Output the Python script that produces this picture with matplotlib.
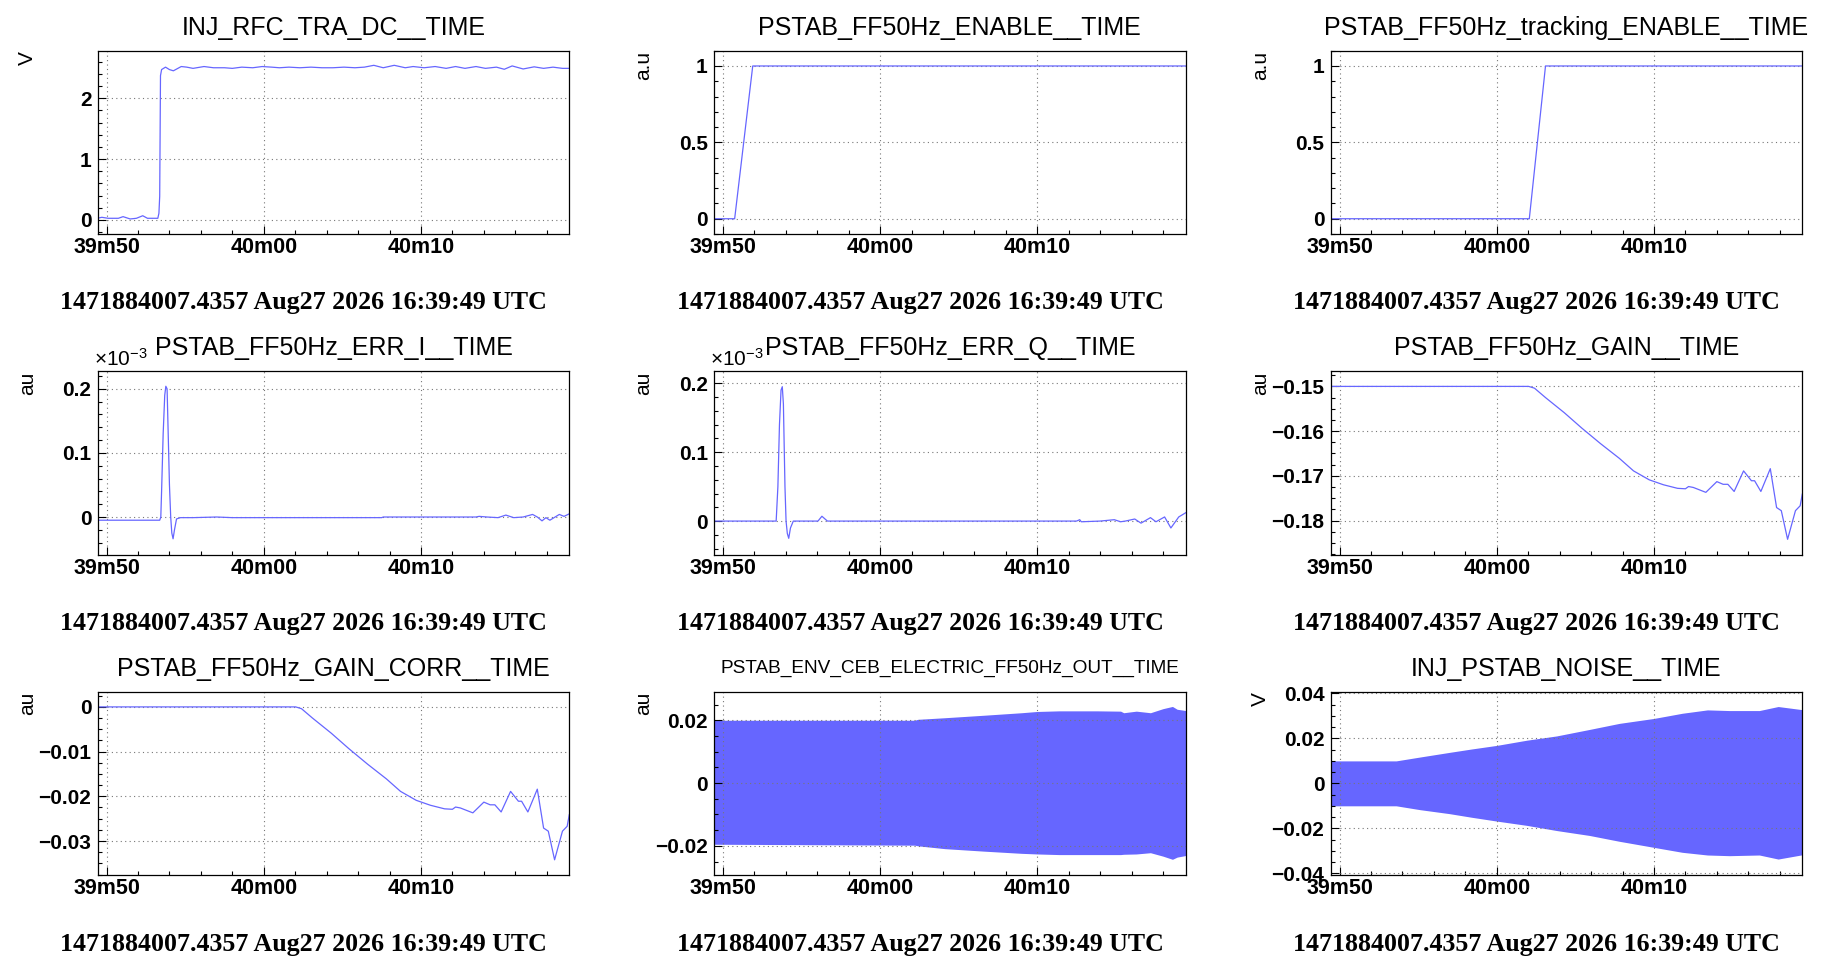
import matplotlib
matplotlib.use('Agg')
import matplotlib.pyplot as plt
from matplotlib.ticker import FixedLocator, MultipleLocator, FuncFormatter

plt.rcParams['font.family'] = ['Liberation Sans', 'DejaVu Sans']
plt.rcParams['mathtext.default'] = 'regular'

# time axis: seconds after 16:39:00 UTC
T0, T1 = 49.4357, 79.4357
xticks = [50, 60, 70]
xtick_labels = ['39m50', '40m00', '40m10']
footer = '1471884007.4357 Aug27 2026 16:39:49 UTC'

# INJ_RFC_TRA_DC__TIME (V)
rfc_t = [49.4357, 49.7, 50.1, 50.75, 51.05, 51.5, 51.9, 52.3, 52.6, 53.26, 53.33, 53.38,
         53.43, 53.5, 53.75, 54.0, 54.25, 54.75, 55.1, 55.5, 56.2, 56.8, 57.5, 58.0, 58.6,
         59.3, 59.9, 60.5, 61.0, 61.6, 62.3, 63.0, 63.7, 64.4, 65.1, 65.8, 66.4, 67.0, 67.6,
         68.3, 69.0, 69.5, 70.2, 70.9, 71.6, 72.2, 72.8, 73.5, 74.1, 74.8, 75.3, 75.8, 76.5,
         77.2, 77.8, 78.4, 79.0, 79.4357]
rfc_v = [0.03, 0.044, 0.028, 0.028, 0.055, 0.017, 0.028, 0.07, 0.028, 0.028, 0.11, 0.39,
         2.37, 2.47, 2.51, 2.47, 2.45, 2.52, 2.51, 2.49, 2.52, 2.50, 2.50, 2.49, 2.51,
         2.50, 2.52, 2.51, 2.50, 2.51, 2.50, 2.51, 2.50, 2.50, 2.51, 2.50, 2.51, 2.54, 2.50,
         2.54, 2.50, 2.52, 2.50, 2.52, 2.49, 2.52, 2.49, 2.52, 2.49, 2.51, 2.475, 2.53, 2.48,
         2.515, 2.49, 2.51, 2.49, 2.49]

# PSTAB_FF50Hz_ENABLE__TIME
en_t = [49.4357, 50.75, 51.9, 79.4357]
en_v = [0, 0, 1, 1]

# PSTAB_FF50Hz_tracking_ENABLE__TIME
trk_t = [49.4357, 62.07, 63.1, 79.4357]
trk_v = [0, 0, 1, 1]

# PSTAB_FF50Hz_ERR_I__TIME (x1e-3 au)
erri_t = [49.4357, 53.38, 53.45, 53.5, 53.6, 53.7, 53.77, 53.85, 53.9, 54.0, 54.08, 54.15,
          54.23, 54.32, 54.45, 54.7, 55.5, 57.0, 58.0, 67.5, 67.6, 73.5, 73.7, 74.2, 74.9,
          75.4, 75.9, 76.5, 77.1, 77.4, 77.7, 77.95, 78.2, 78.8, 79.1, 79.4357]
erri_v = [-0.005, -0.005, 0.0, 0.04, 0.13, 0.19, 0.204, 0.2, 0.15, 0.05, 0.0, -0.025,
          -0.034, -0.02, -0.003, -0.001, -0.001, 0.0, -0.001, -0.001, 0.0, 0.0, 0.001, 0.0, -0.001,
          0.003, -0.001, 0.0, 0.004, 0.0, -0.006, -0.001, -0.005, 0.004, 0.001, 0.005]

# PSTAB_FF50Hz_ERR_Q__TIME (x1e-3 au)
errq_t = [49.4357, 53.39, 53.5, 53.6, 53.7, 53.78, 53.85, 53.95, 54.02, 54.1, 54.19, 54.3,
          54.48, 56.05, 56.3, 56.65, 72.5, 72.7, 72.8, 74.0, 74.9, 75.3, 75.6, 76.2, 76.6,
          77.2, 77.55, 78.1, 78.5, 79.0, 79.4357]
errq_v = [0.0, 0.0, 0.05, 0.14, 0.19, 0.195, 0.17, 0.05, 0.0, -0.018, -0.025, -0.01,
          0.0, 0.0, 0.007, 0.0, 0.0, 0.002, -0.001, 0.0, 0.002, -0.001, 0.0, 0.003, -0.003,
          0.005, -0.001, 0.006, -0.01, 0.006, 0.012]

# PSTAB_FF50Hz_GAIN__TIME
gain_t = [49.4357, 62.03, 62.4, 63.1, 64.3, 65.4, 66.6, 67.8, 68.7, 69.7, 70.6, 71.5, 72.0,
          72.2, 72.5, 73.3, 74.0, 74.4, 74.7, 75.1, 75.7, 76.2, 76.4, 76.8, 77.4, 77.8, 78.1,
          78.5, 79.0, 79.3, 79.4357]
gain_v = [-0.15, -0.15, -0.1504, -0.1525, -0.1559, -0.1593, -0.1628, -0.1661, -0.1689,
          -0.1709, -0.172, -0.1728, -0.1729, -0.1724, -0.1726, -0.1737, -0.1713, -0.1719,
          -0.1719, -0.1735, -0.1689, -0.1711, -0.1711, -0.1735, -0.1684, -0.1771, -0.1778,
          -0.1842, -0.1778, -0.1767, -0.1741]

# PSTAB_FF50Hz_GAIN_CORR__TIME
corr_t = gain_t
corr_v = [0.0, 0.0, -0.0004, -0.0025, -0.0059, -0.0093, -0.0128, -0.0161, -0.0189,
          -0.0209, -0.022, -0.0228, -0.0229, -0.0224, -0.0226, -0.0237, -0.0213, -0.0219,
          -0.0219, -0.0235, -0.0189, -0.0211, -0.0211, -0.0235, -0.0184, -0.0271, -0.0278,
          -0.0342, -0.0278, -0.0267, -0.0241]

# PSTAB_ENV_CEB_ELECTRIC_FF50Hz_OUT__TIME envelope
ceb_t = [49.4357, 62.2, 62.4, 64.1, 66.6, 69.0, 70.0, 71.4, 73.8, 75.3, 75.5, 76.3, 77.2,
         78.0, 78.6, 78.9, 79.4357]
ceb_hi = [0.0200, 0.0200, 0.0203, 0.0208, 0.0216, 0.0224, 0.0228, 0.0230, 0.0230, 0.0229,
          0.0224, 0.0229, 0.0224, 0.0237, 0.0244, 0.0235, 0.0231]
ceb_lo = [-0.0195, -0.0198, -0.0200, -0.0209, -0.0217, -0.0224, -0.0226, -0.0228, -0.0228,
          -0.0228, -0.0227, -0.0226, -0.0222, -0.0233, -0.0243, -0.0236, -0.0231]

# INJ_PSTAB_NOISE__TIME envelope
noise_t = [49.4357, 53.6, 55.1, 57.0, 58.4, 60.0, 61.9, 63.8, 65.9, 67.8, 70.0, 71.8, 73.4,
           74.8, 76.7, 77.9, 79.4357]
noise_hi = [0.0100, 0.0100, 0.0117, 0.0138, 0.0153, 0.0169, 0.0192, 0.0211, 0.0240, 0.0267,
            0.0289, 0.0312, 0.0327, 0.0324, 0.0324, 0.0342, 0.0328]
noise_lo = [-0.0100, -0.0100, -0.0117, -0.0135, -0.0151, -0.0168, -0.0187, -0.0210, -0.0232,
            -0.0258, -0.0285, -0.0307, -0.0319, -0.0322, -0.0319, -0.0337, -0.0318]

BLUE = '#6666ff'

panels = [
    dict(title='INJ_RFC_TRA_DC__TIME', ylabel='V', t=rfc_t, y=rfc_v,
         ylim=(-0.23, 2.78), yticks=[0, 1, 2], yminor=0.2),
    dict(title='PSTAB_FF50Hz_ENABLE__TIME', ylabel='a.u', t=en_t, y=en_v,
         ylim=(-0.1, 1.1), yticks=[0, 0.5, 1], yminor=0.1),
    dict(title='PSTAB_FF50Hz_tracking_ENABLE__TIME', ylabel='a.u', t=trk_t, y=trk_v,
         ylim=(-0.1, 1.1), yticks=[0, 0.5, 1], yminor=0.1),
    dict(title='PSTAB_FF50Hz_ERR_I__TIME', ylabel='au', t=erri_t, y=erri_v,
         ylim=(-0.0585, 0.2275), yticks=[0, 0.1, 0.2], yminor=0.02, expo=True),
    dict(title='PSTAB_FF50Hz_ERR_Q__TIME', ylabel='au', t=errq_t, y=errq_v,
         ylim=(-0.0485, 0.2175), yticks=[0, 0.1, 0.2], yminor=0.02, expo=True),
    dict(title='PSTAB_FF50Hz_GAIN__TIME', ylabel='au', t=gain_t, y=gain_v,
         ylim=(-0.1876, -0.1466), yticks=[-0.18, -0.17, -0.16, -0.15], yminor=0.0025),
    dict(title='PSTAB_FF50Hz_GAIN_CORR__TIME', ylabel='au', t=corr_t, y=corr_v,
         ylim=(-0.0376, 0.0034), yticks=[-0.03, -0.02, -0.01, 0], yminor=0.0025),
    dict(title='PSTAB_ENV_CEB_ELECTRIC_FF50Hz_OUT__TIME', ylabel='au', t=ceb_t,
         hi=ceb_hi, lo=ceb_lo, ylim=(-0.0293, 0.0291), yticks=[-0.02, 0, 0.02],
         yminor=0.005, tsize=13.7),
    dict(title='INJ_PSTAB_NOISE__TIME', ylabel='V', t=noise_t, hi=noise_hi, lo=noise_lo,
         ylim=(-0.0408, 0.0408), yticks=[-0.04, -0.02, 0, 0.02, 0.04], yminor=0.005),
]


def fmt(v, pos=None):
    if abs(v) < 1e-12:
        return '0'
    return ('%g' % v).replace('-', '\u2212')


W, H = 1831.0, 958.0
col_left = [97.7, 714.0, 1330.7]
row_top = [50.7, 371.2, 691.7]
ax_w, ax_h = 471.6, 183.3

fig = plt.figure(figsize=(W / 100, H / 100), dpi=100)

for i, p in enumerate(panels):
    r, c = divmod(i, 3)
    ax = fig.add_axes([col_left[c] / W, 1 - (row_top[r] + ax_h) / H, ax_w / W, ax_h / H])
    if 'hi' in p:
        ax.fill_between(p['t'], p['lo'], p['hi'], color=BLUE, lw=0)
    else:
        ax.plot(p['t'], p['y'], color=BLUE, lw=0.9)
    ax.set_xlim(T0, T1)
    ax.set_ylim(*p['ylim'])
    ax.xaxis.set_major_locator(FixedLocator(xticks))
    ax.set_xticklabels(xtick_labels)
    ax.xaxis.set_minor_locator(MultipleLocator(2))
    ax.yaxis.set_major_locator(FixedLocator(p['yticks']))
    ax.yaxis.set_major_formatter(FuncFormatter(fmt))
    ax.yaxis.set_minor_locator(MultipleLocator(p['yminor']))
    ax.grid(True, which='major', color='#777777', lw=0.8, linestyle=(0, (1, 3)))
    ax.tick_params(which='both', direction='in', top=False, right=False)
    ax.tick_params(which='major', length=6, width=0.8)
    ax.tick_params(which='minor', length=3, width=0.8)
    ax.tick_params(axis='x', pad=2.5)
    ax.tick_params(axis='y', pad=4.5)
    for lab in ax.get_xticklabels():
        lab.set_fontweight('bold')
        lab.set_fontsize(15.5)
    for lab in ax.get_yticklabels():
        lab.set_fontweight('bold')
        lab.set_fontsize(15)
    for s in ax.spines.values():
        s.set_linewidth(0.9)
    ax.text(0.5, 1 + 23 / ax_h, p['title'], transform=ax.transAxes, ha='center',
            va='center', fontsize=p.get('tsize', 18))
    ax.text(-70 / ax_w, 1.0, p['ylabel'], transform=ax.transAxes, rotation=90,
            ha='center', va='top', fontsize=15)
    if p.get('expo'):
        ax.text(-0.008, 1 + 1 / ax_h, '\u00d710$^{-3}$', transform=ax.transAxes,
                ha='left', va='bottom', fontsize=15)
    fig.text((col_left[c] + 206) / W, 1 - (303 + 320.5 * r) / H, footer,
             family='Liberation Serif', fontweight='bold', fontsize=18.6,
             ha='center', va='center')

fig.savefig('out.png', dpi=100)
